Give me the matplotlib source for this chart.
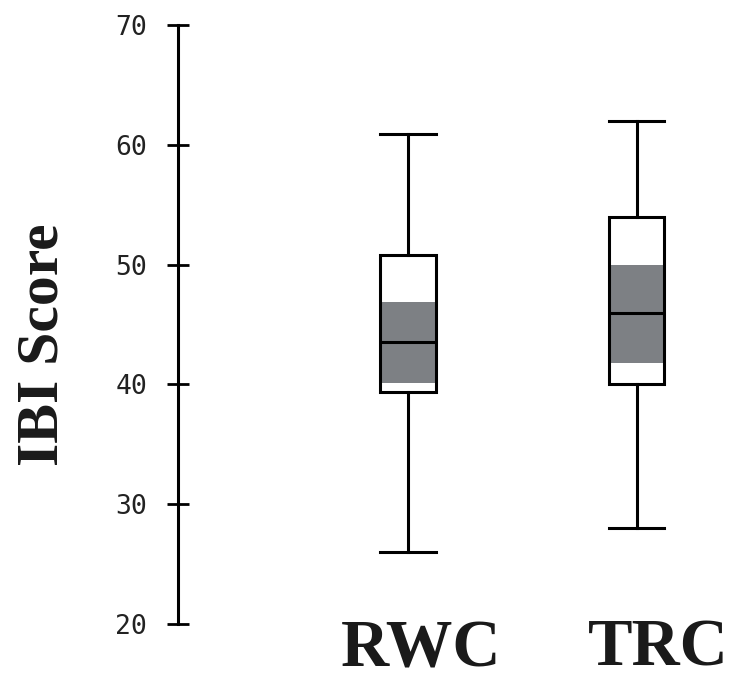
import matplotlib
matplotlib.use("Agg")
import matplotlib.pyplot as plt

# Data
categories = ["RWC", "TRC"]
whisker_low = [26.0, 28.0]
q1 = [39.4, 40.0]
median = [43.5, 46.0]
q3 = [50.8, 54.0]
whisker_high = [60.9, 62.0]
ci_low = [40.1, 41.8]
ci_high = [46.9, 50.0]
yticks = [20, 30, 40, 50, 60, 70]

positions = [1, 2]
label_offsets = [0.055, 0.095]
box_w = 0.245
grey = "#7d8084"

fig = plt.figure(figsize=(7.31, 6.81), dpi=100)
ax = fig.add_axes([178 / 731, 57 / 681, 1 - 178 / 731, (624 - 25) / 681])

stats = []
for i, c in enumerate(categories):
    stats.append(dict(label=c, med=median[i], q1=q1[i], q3=q3[i],
                      whislo=whisker_low[i], whishi=whisker_high[i], fliers=[]))

# grey confidence band around the median
ax.bar(positions, [h - l for h, l in zip(ci_high, ci_low)], bottom=ci_low,
       width=box_w, color=grey, zorder=2, linewidth=0)

lw = 2.2
ax.bxp(stats, positions=positions, widths=box_w, capwidths=[box_w] * 2,
       patch_artist=True, showfliers=False,
       boxprops=dict(facecolor="none", edgecolor="black", linewidth=lw, zorder=3),
       medianprops=dict(color="black", linewidth=lw, zorder=4),
       whiskerprops=dict(color="black", linewidth=lw),
       capprops=dict(color="black", linewidth=lw))

ax.bar(positions, [b - a for a, b in zip(q1, q3)], bottom=q1, width=box_w,
       color="white", zorder=1, linewidth=0)

ax.set_ylim(20, 70)
ax.set_xlim(1 - (408 - 178) / 228.5, 1 + (731 - 408) / 228.5)
ax.set_yticks(yticks)
ax.set_yticklabels([str(t) for t in yticks], family="DejaVu Sans Mono",
                   fontsize=19, color="#222222")
ax.tick_params(axis="y", direction="inout", length=16.5, width=2, pad=14)
ax.set_xticks([])
for s in ["top", "right", "bottom"]:
    ax.spines[s].set_visible(False)
ax.spines["left"].set_linewidth(2.2)
ax.spines["left"].set_bounds(20, 70)

base_y = (681 - 666 - 57) / 599
for p, off, c in zip(positions, label_offsets, categories):
    ax.text(p + off, base_y, c, transform=ax.get_xaxis_transform(),
            ha="center", va="baseline", family="Liberation Serif",
            fontweight="bold", fontsize=48, color="#1a1a1a")

fig.text(44 / 731, 1 - 345 / 681, "IBI Score", rotation=90, ha="center",
         va="center", family="Liberation Serif", fontweight="bold",
         fontsize=43, color="#1a1a1a")

fig.savefig("out.png", dpi=100)
